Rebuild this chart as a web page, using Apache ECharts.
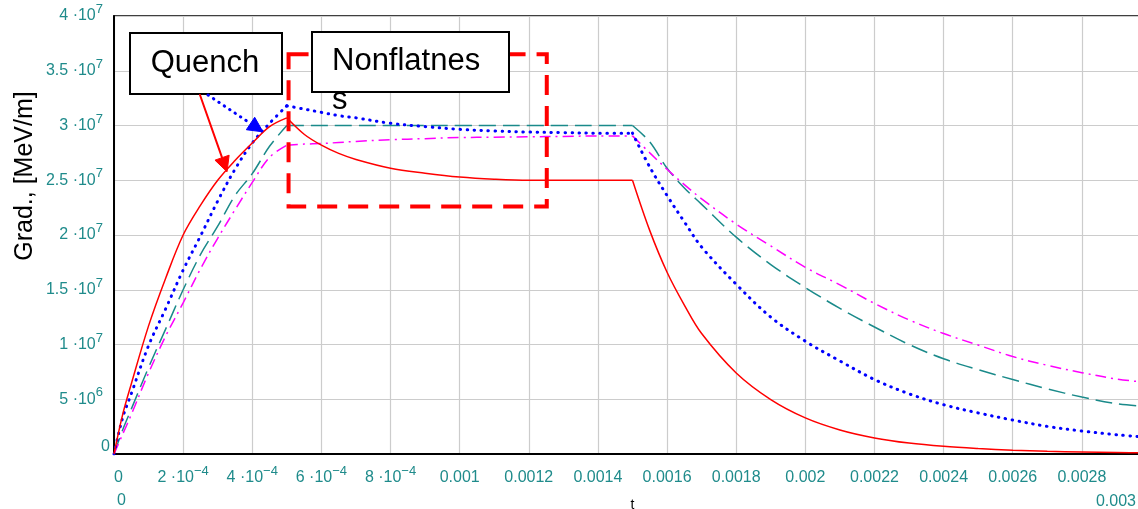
<!DOCTYPE html>
<html>
<head>
<meta charset="utf-8">
<script src="https://cdn.jsdelivr.net/npm/echarts@6/dist/echarts.min.js"></script>
<style>
  html, body { margin: 0; padding: 0; background: #ffffff; }
  #chart { width: 1138px; height: 509px; }
</style>
</head>
<body>
<div id="chart"></div>
<script>
// Accelerating gradient vs. time for four cavity cases (t in s, gradient in V/m)
const time = [0, 0.25e-4, 0.5e-4, 1e-4, 1.5e-4, 2e-4, 2.5e-4, 3e-4, 3.5e-4, 4e-4, 4.5e-4, 5e-4,
  5.5e-4, 6e-4, 6.5e-4, 7e-4, 8e-4, 9e-4, 1e-3, 1.1e-3, 1.2e-3, 1.3e-3, 1.4e-3, 1.5e-3,
  1.55e-3, 1.6e-3, 1.65e-3, 1.7e-3, 1.8e-3, 1.9e-3, 2e-3, 2.1e-3, 2.2e-3, 2.3e-3, 2.4e-3,
  2.5e-3, 2.6e-3, 2.7e-3, 2.8e-3, 2.9e-3, 3e-3];

const gradRed = [0, 3.6e6, 6.4e6, 1.17e7, 1.61e7, 2.0e7, 2.27e7, 2.5e7, 2.68e7, 2.84e7, 2.99e7, 3.07e7,
  2.92e7, 2.82e7, 2.745e7, 2.69e7, 2.61e7, 2.565e7, 2.53e7, 2.51e7, 2.5e7, 2.5e7, 2.5e7, 2.5e7,
  2.04e7, 1.66e7, 1.36e7, 1.1e7, 7.4e6, 4.97e6, 3.3e6, 2.2e6, 1.47e6, 1.0e6, 7.0e5,
  5.0e5, 3.5e5, 2.5e5, 1.8e5, 1.3e5, 1.0e5];

const gradBlue = [0, 3.3e6, 5.5e6, 9.9e6, 1.33e7, 1.68e7, 1.99e7, 2.31e7, 2.6e7, 2.84e7, 3.02e7, 3.18e7,
  3.15e7, 3.12e7, 3.09e7, 3.07e7, 3.02e7, 2.99e7, 2.965e7, 2.95e7, 2.94e7, 2.935e7, 2.93e7, 2.93e7,
  2.62e7, 2.36e7, 2.12e7, 1.89e7, 1.55e7, 1.25e7, 1.03e7, 8.5e6, 6.8e6, 5.5e6, 4.5e6,
  3.75e6, 3.1e6, 2.52e6, 2.1e6, 1.76e6, 1.5e6];

const gradTeal = [0, 2.2e6, 4.1e6, 7.9e6, 1.145e7, 1.5e7, 1.82e7, 2.08e7, 2.36e7, 2.56e7, 2.81e7, 3.0e7,
  3.0e7, 3.0e7, 3.0e7, 3.0e7, 3.0e7, 3.0e7, 3.0e7, 3.0e7, 3.0e7, 3.0e7, 3.0e7, 3.0e7,
  2.85e7, 2.61e7, 2.43e7, 2.28e7, 1.98e7, 1.73e7, 1.52e7, 1.33e7, 1.16e7, 1.0e7, 8.7e6,
  7.7e6, 6.8e6, 5.95e6, 5.2e6, 4.6e6, 4.3e6];

const gradMagenta = [0, 1.8e6, 3.6e6, 7.4e6, 1.08e7, 1.38e7, 1.69e7, 1.97e7, 2.23e7, 2.48e7, 2.71e7, 2.82e7,
  2.83e7, 2.835e7, 2.845e7, 2.855e7, 2.87e7, 2.88e7, 2.89e7, 2.893e7, 2.897e7, 2.9e7, 2.905e7, 2.905e7,
  2.75e7, 2.6e7, 2.46e7, 2.33e7, 2.1e7, 1.9e7, 1.705e7, 1.545e7, 1.375e7, 1.225e7, 1.1e7,
  9.95e6, 8.9e6, 8.1e6, 7.43e6, 6.85e6, 6.5e6];

// Pulse phases: fill (to 0.5 ms), flat top (to 1.5 ms), decay
const phaseBreaks = [5e-4, 1.5e-3];

// Tick labels ('^' marks the exponent)
const xTickLabels = ['0', '2 \u00b710^\u22124', '4 \u00b710^\u22124', '6 \u00b710^\u22124', '8 \u00b710^\u22124',
  '0.001', '0.0012', '0.0014', '0.0016', '0.0018', '0.002', '0.0022', '0.0024', '0.0026', '0.0028', '0.003'];
const yTickLabels = ['0', '5 \u00b710^6', '1 \u00b710^7', '1.5 \u00b710^7', '2 \u00b710^7',
  '2.5 \u00b710^7', '3 \u00b710^7', '3.5 \u00b710^7', '4 \u00b710^7'];
const xRangeLabels = ['0', '0.003'];

// Highlighted plateau region and callout targets, in data units
const flatRegion = { t0: 5.05e-4, t1: 1.252e-3, g0: 2.26e7, g1: 3.65e7 };
const redTarget = [3.27e-4, 2.577e7];
const blueTarget = [4.31e-4, 2.942e7];

const FONT = '"Liberation Sans", Arial, sans-serif';
const TEAL = '#1f8b8b';
const X_STEP = 2e-4, Y_STEP = 5e6;

function toRich(str) {
  if (str === '0') return '{z|0}';
  const p = str.split('^');
  return p.length > 1 ? '{m|' + p[0] + '}{s|' + p[1] + '}' : '{m|' + str + '}';
}
const rich = {
  m: { fontSize: 16, lineHeight: 26, verticalAlign: 'middle', color: TEAL, fontFamily: FONT },
  s: { fontSize: 13, lineHeight: 11, verticalAlign: 'top', color: TEAL, fontFamily: FONT },
  z: { fontSize: 16, lineHeight: 26, verticalAlign: 'middle', color: TEAL, fontFamily: FONT }
};
const yRich = Object.assign({}, rich, {
  z: { fontSize: 16, lineHeight: 26, verticalAlign: 'middle', color: TEAL, fontFamily: FONT, padding: [0, -7, 15, 0] }
});

// Each curve is drawn phase by phase so the corners at the phase breaks stay sharp
function curveSeries(name, ys, lineStyle, z) {
  const cuts = [0].concat(phaseBreaks.map(b => time.indexOf(b)), [time.length - 1]);
  const out = [];
  for (let k = 0; k < cuts.length - 1; k++) {
    const pts = [];
    for (let i = cuts[k]; i <= cuts[k + 1]; i++) pts.push([time[i], ys[i]]);
    out.push({ name: name, type: 'line', data: pts, symbol: 'none', smooth: 0.35,
      lineStyle: lineStyle, z: z, silent: true });
  }
  return out;
}

const chart = echarts.init(document.getElementById('chart'), null, { renderer: 'canvas' });

chart.setOption({
  animation: false,
  backgroundColor: '#ffffff',
  textStyle: { fontFamily: FONT },
  grid: {
    left: 114, top: 16, right: -13, bottom: 55,
    outerBoundsMode: 'none', containLabel: false,
    show: true, borderColor: '#000', borderWidth: 1.5
  },
  xAxis: {
    type: 'value', min: 0, max: 0.003, interval: X_STEP,
    axisLine: { show: true, lineStyle: { color: '#000', width: 2 } },
    axisTick: { show: false },
    splitLine: { show: true, lineStyle: { color: '#cccccc', width: 1.2 } },
    axisLabel: {
      margin: 11, showMaxLabel: false, alignMinLabel: 'left',
      formatter: (v) => toRich(xTickLabels[Math.round(v / X_STEP)] || ''),
      rich: rich
    },
    name: 't', nameLocation: 'middle', nameGap: 44,
    nameTextStyle: { color: '#000', fontSize: 14, fontFamily: FONT }
  },
  yAxis: {
    type: 'value', min: 0, max: 4e7, interval: Y_STEP,
    axisLine: { show: true, lineStyle: { color: '#000', width: 2 } },
    axisTick: { show: false },
    splitLine: { show: true, lineStyle: { color: '#cccccc', width: 1.2 } },
    axisLabel: {
      margin: 11,
      formatter: (v) => toRich(yTickLabels[Math.round(v / Y_STEP)] || ''),
      rich: yRich
    }
  },
  series: [].concat(
    curveSeries('teal', gradTeal, { color: '#1a8a8a', width: 1.5, type: [17, 7] }, 2),
    curveSeries('magenta', gradMagenta, { color: '#ff00ff', width: 1.5, type: [11, 5, 2, 5] }, 2),
    curveSeries('blue', gradBlue, { color: '#0000ff', width: 3, type: [0.5, 6.5], cap: 'round' }, 3),
    curveSeries('red', gradRed, { color: '#ff0000', width: 1.5 }, 4)
  )
});

// Callouts
const px = (t, g) => chart.convertToPixel({ gridIndex: 0 }, [t, g]);

function arrow(tail, tip, color, dash, width) {
  const dx = tip[0] - tail[0], dy = tip[1] - tail[1];
  const len = Math.hypot(dx, dy), ux = dx / len, uy = dy / len;
  const L = 15, W = 7.5;
  const bx = tip[0] - ux * L, by = tip[1] - uy * L;
  return [
    { type: 'line', z: 120, shape: { x1: tail[0], y1: tail[1], x2: bx, y2: by },
      style: { stroke: color, lineWidth: width, lineDash: dash, lineCap: 'round' } },
    { type: 'polygon', z: 121,
      shape: { points: [tip, [bx - uy * W, by + ux * W], [bx + uy * W, by - ux * W]] },
      style: { fill: color, stroke: color, lineWidth: 1 } }
  ];
}

const r0 = px(flatRegion.t0, flatRegion.g1);
const r1 = px(flatRegion.t1, flatRegion.g0);
const redTip = px(redTarget[0], redTarget[1]);
const blueTip = px(blueTarget[0], blueTarget[1]);

const yTitle = { type: 'text', x: 25, y: 176, rotation: Math.PI / 2, z: 100,
  style: { text: 'Grad., [MeV/m]', fontSize: 25, fontFamily: FONT, fill: '#000', align: 'center', verticalAlign: 'middle' } };

chart.setOption({
  graphic: [
    yTitle,
    { type: 'text', x: 117, y: 501, z: 100,
      style: { text: xRangeLabels[0], fontSize: 16, fontFamily: FONT, fill: TEAL, align: 'left', verticalAlign: 'middle' } },
    { type: 'text', x: 1136, y: 502, z: 100,
      style: { text: xRangeLabels[1], fontSize: 16, fontFamily: FONT, fill: TEAL, align: 'right', verticalAlign: 'middle' } },
    { type: 'rect', z: 100, shape: { x: r0[0], y: r0[1], width: r1[0] - r0[0], height: r1[1] - r0[1] },
      style: { fill: 'none', stroke: '#ff0000', lineWidth: 4, lineDash: [20, 11] } },
    { type: 'rect', z: 110, shape: { x: 130, y: 33, width: 152, height: 61 },
      style: { fill: '#ffffff', stroke: '#000', lineWidth: 2 } },
    { type: 'text', x: 205, y: 63, z: 111,
      style: { text: 'Quench', fontSize: 31, fontFamily: FONT, fill: '#000', align: 'center', verticalAlign: 'middle' } },
    { type: 'rect', z: 110, shape: { x: 312, y: 32, width: 197, height: 60 },
      style: { fill: '#ffffff', stroke: '#000', lineWidth: 2 } },
    { type: 'text', x: 332, y: 42, z: 111,
      style: { text: 'Nonflatnes\ns', fontSize: 31, lineHeight: 39, fontFamily: FONT, fill: '#000', align: 'left', verticalAlign: 'top' } }
  ].concat(
    arrow([200, 95], redTip, '#ff0000', null, 2),
    arrow([208, 95], blueTip, '#0000ff', [0.5, 6], 3)
  )
});
</script>
</body>
</html>
